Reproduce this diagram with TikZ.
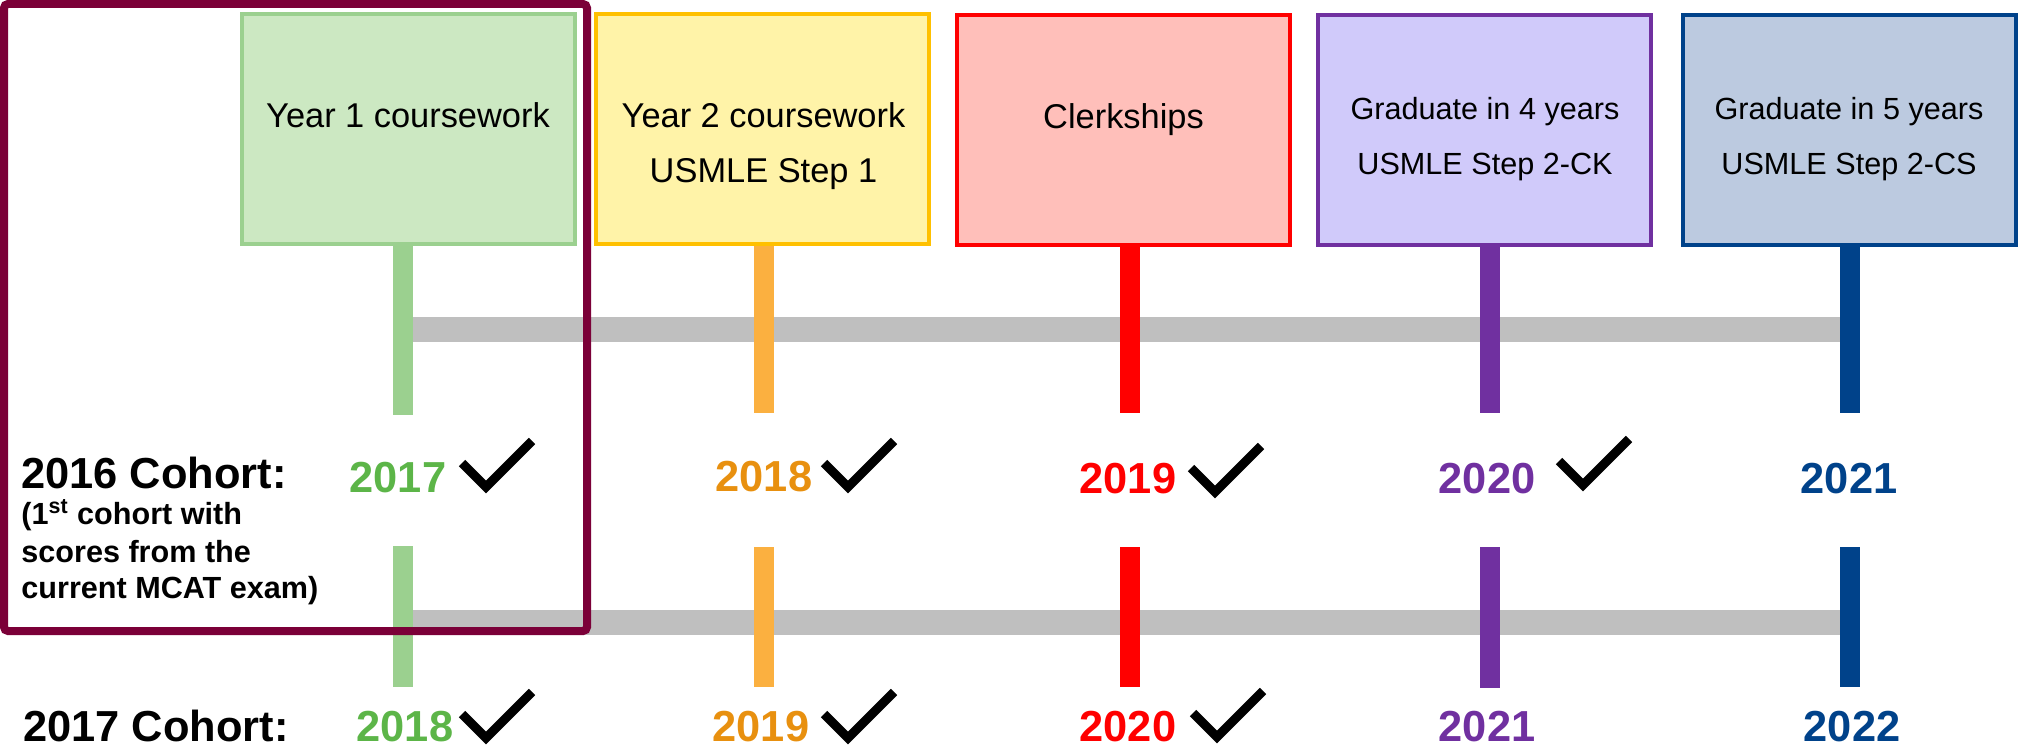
\documentclass[tikz,border=0pt]{standalone}
\usepackage{fontspec}
\setmainfont{Liberation Sans}
\definecolor{gfill}{HTML}{CCE8C2}
\definecolor{gline}{HTML}{9BD08F}
\definecolor{gtext}{HTML}{5CB548}
\definecolor{yfill}{HTML}{FFF3A8}
\definecolor{yline}{HTML}{FFC000}
\definecolor{otick}{HTML}{FBB040}
\definecolor{otext}{HTML}{E8900F}
\definecolor{rfill}{HTML}{FFBFBA}
\definecolor{rline}{HTML}{FF0000}
\definecolor{pfill}{HTML}{D0CAFA}
\definecolor{pline}{HTML}{7030A0}
\definecolor{bfill}{HTML}{BCCAE0}
\definecolor{bline}{HTML}{00428A}
\definecolor{maroonc}{HTML}{7B0038}
\definecolor{barc}{HTML}{BFBFBF}
\tikzset{
  stagebox/.style={draw, line width=2pt, minimum width=166.5pt, minimum height=115pt, inner sep=0pt},
  boxtxt/.style={anchor=base, inner sep=0pt, font=\fontsize{17.2pt}{20pt}\selectfont},
  gradtxt/.style={anchor=base, inner sep=0pt, font=\fontsize{15.3pt}{18pt}\selectfont},
  yeartxt/.style={anchor=base, inner sep=0pt, font=\bfseries\fontsize{21.7pt}{26pt}\selectfont},
  cohorttxt/.style={anchor=base west, inner sep=0pt, font=\bfseries\fontsize{21.7pt}{26pt}\selectfont},
  subtxt/.style={anchor=base west, inner sep=0pt, font=\bfseries\fontsize{15.3pt}{18pt}\selectfont},
  chk/.style={draw=black, line width=4.5pt, line join=miter, line cap=butt},
  graybar/.style={draw=barc, line width=12.5pt},
  tick/.style={line width=10pt},
}
\newcommand\mychk[2]{\draw[chk] ({#1-24},{#2-24}) -- (#1,#2) -- ({#1+46},{#2-46});}
\begin{document}
\begin{tikzpicture}[x=0.5pt,y=-0.5pt]
\useasboundingbox (0,0) rectangle (2019,748);
% stage boxes
\node[stagebox, draw=gline, fill=gfill] (b1) at (408.5,129.5) {};
\node[stagebox, draw=yline, fill=yfill] (b2) at (762.5,129.5) {};
\node[stagebox, draw=rline, fill=rfill] (b3) at (1123.5,130) {};
\node[stagebox, draw=pline, fill=pfill] (b4) at (1484.5,130.5) {};
\node[stagebox, draw=bline, fill=bfill] (b5) at (1849,130) {};
\node[boxtxt] (t1) at (408,128) {Year 1 coursework};
\node[boxtxt] (t2a) at (763.5,128) {Year 2 coursework};
\node[boxtxt] (t2b) at (763.5,183) {USMLE Step 1};
\node[boxtxt] (t3) at (1123.5,129) {Clerkships};
\node[gradtxt] (t4a) at (1485,120) {Graduate in 4 years};
\node[gradtxt] (t4b) at (1485,175) {USMLE Step 2-CK};
\node[gradtxt] (t5a) at (1849,120) {Graduate in 5 years};
\node[gradtxt] (t5b) at (1849,175) {USMLE Step 2-CS};
% timeline coordinates
\coordinate (ga1) at (403,246); \coordinate (gb1) at (403,415);
\coordinate (oa1) at (764,246); \coordinate (ob1) at (764,413);
\coordinate (ra1) at (1130,246); \coordinate (rb1) at (1130,413);
\coordinate (pa1) at (1490,247); \coordinate (pb1) at (1490,413);
\coordinate (ba1) at (1849.5,246); \coordinate (bb1) at (1849.5,413);
\coordinate (ga2) at (403,546); \coordinate (gb2) at (403,687);
\coordinate (oa2) at (764,547); \coordinate (ob2) at (764,687);
\coordinate (ra2) at (1130,547); \coordinate (rb2) at (1130,687);
\coordinate (pa2) at (1490,547); \coordinate (pb2) at (1490,688);
\coordinate (ba2) at (1849.5,547); \coordinate (bb2) at (1849.5,687);
% gray bars
\draw[graybar] (403,329.5) -- (1849.5,329.5);
\draw[graybar] (403,622) -- (1849.5,622);
% ticks
\draw[tick, gline] (ga1) -- (gb1);
\draw[tick, otick] (oa1) -- (ob1);
\draw[tick, rline] (ra1) -- (rb1);
\draw[tick, pline] (pa1) -- (pb1);
\draw[tick, bline] (ba1) -- (bb1);
\draw[tick, gline] (ga2) -- (gb2);
\draw[tick, otick] (oa2) -- (ob2);
\draw[tick, rline] (ra2) -- (rb2);
\draw[tick, pline] (pa2) -- (pb2);
\draw[tick, bline] (ba2) -- (bb2);
% cohort labels
\node[cohorttxt] (c16) at (21,488) {2016 Cohort:};
\node[subtxt] (s1) at (21,524) {(1\textsuperscript{st} cohort with};
\node[subtxt] (s2) at (21,562) {scores from the};
\node[subtxt] (s3) at (21,598) {current MCAT exam)};
\node[cohorttxt] (c17) at (23,741) {2017 Cohort:};
% years row 1
\node[yeartxt, text=gtext] (y17a) at (398,493) {2017};
\node[yeartxt, text=otext] (y18a) at (764,492) {2018};
\node[yeartxt, text=rline] (y19a) at (1128,494) {2019};
\node[yeartxt, text=pline] (y20a) at (1487,494) {2020};
\node[yeartxt, text=bline] (y21a) at (1849,494) {2021};
% years row 2
\node[yeartxt, text=gtext] (y18b) at (405,741) {2018};
\node[yeartxt, text=otext] (y19b) at (761,741) {2019};
\node[yeartxt, text=rline] (y20b) at (1128,741) {2020};
\node[yeartxt, text=pline] (y21b) at (1487,741) {2021};
\node[yeartxt, text=bline] (y22b) at (1852,741) {2022};
% check marks
\mychk{486}{487}
\mychk{848}{487}
\mychk{1215}{492}
\mychk{1583}{485}
\mychk{486}{738}
\mychk{848}{738}
\mychk{1217}{737}
% highlight frame
\draw[maroonc, line width=4pt, rounded corners=2pt] (4,4) rectangle (587,631);
\end{tikzpicture}
\end{document}
